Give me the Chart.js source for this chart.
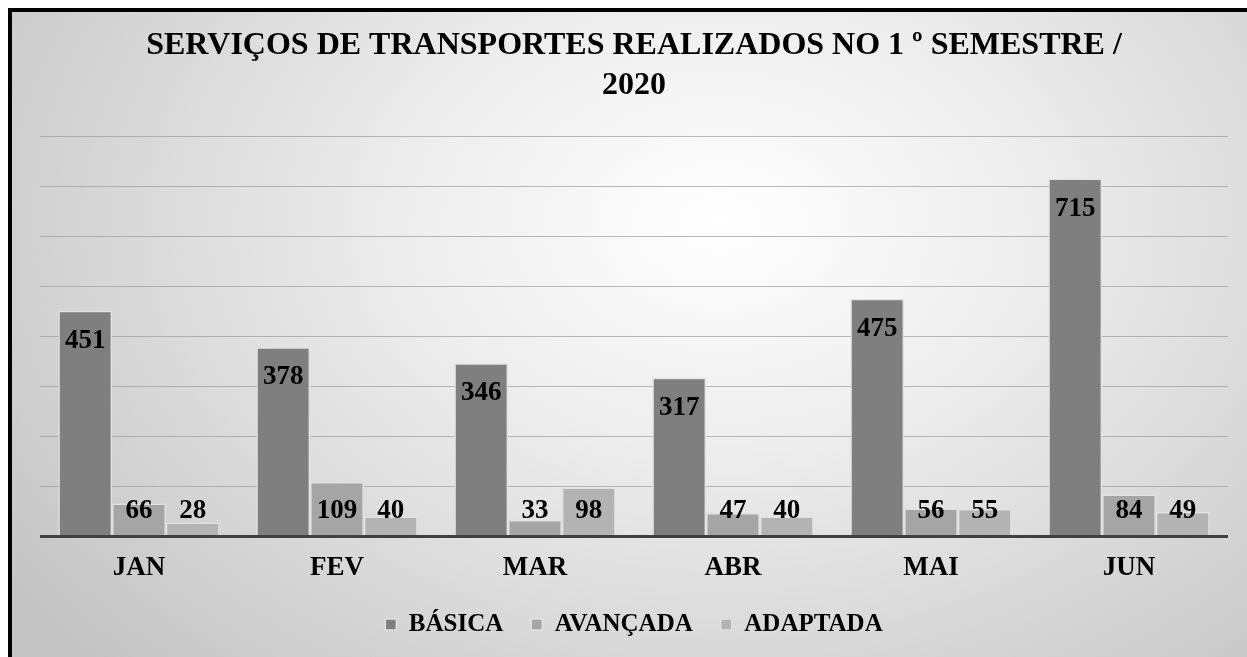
<!DOCTYPE html>
<html>
<head>
<meta charset="utf-8">
<script src="https://cdn.jsdelivr.net/npm/chart.js@4.4.1/dist/chart.umd.min.js"></script>
<style>
    html, body { margin: 0; padding: 0; overflow: hidden; background: #ffffff; }
    #box {
        position: absolute;
        left: 8px;
        top: 8px;
        width: 1242px;
        height: 660px;
        border: 4px solid #000000;
        background: radial-gradient(ellipse 70% 95% at 57% 32%, #ffffff 0%, #eeeeee 35%, #c4c4c4 100%);
    }
</style>
</head>
<body>
<div id="box"><canvas id="grafico"></canvas></div>
<script>
// dados do gráfico
const meses = ["JAN", "FEV", "MAR", "ABR", "MAI", "JUN"];
const basica = [451, 378, 346, 317, 475, 715];
const avancada = [66, 109, 33, 47, 56, 84];
const adaptada = [28, 40, 98, 40, 55, 49];
const titulo = ["SERVIÇOS DE TRANSPORTES REALIZADOS NO 1 º SEMESTRE /", "2020"];

const fonte = "'Liberation Serif', 'Times New Roman', serif";

// rótulos de valor em cima/dentro das barras
const rotulos = {
    id: "rotulos",
    afterDraw(chart) {
        const ctx = chart.ctx;
        ctx.save();
        ctx.font = "bold 27px " + fonte;
        ctx.fillStyle = "#000000";
        ctx.textAlign = "center";
        ctx.textBaseline = "middle";
        chart.data.datasets.forEach((ds, i) => {
            const meta = chart.getDatasetMeta(i);
            meta.data.forEach((bar, j) => {
                const y = Math.min(bar.y + 30, bar.base - 24);
                ctx.fillText(ds.data[j], bar.x, y);
            });
        });
        ctx.restore();
    }
};

new Chart(document.getElementById("grafico"), {
    type: "bar",
    data: {
        labels: meses,
        datasets: [
            { label: "BÁSICA", data: basica, backgroundColor: "#7f7f7f", borderColor: "#e2e2e2", borderWidth: 1.5 },
            { label: "AVANÇADA", data: avancada, backgroundColor: "#a5a5a5", borderColor: "#e2e2e2", borderWidth: 1.5 },
            { label: "ADAPTADA", data: adaptada, backgroundColor: "#b3b3b3", borderColor: "#e2e2e2", borderWidth: 1.5 }
        ]
    },
    options: {
        responsive: true,
        maintainAspectRatio: false,
        animation: false,
        datasets: { bar: { categoryPercentage: 0.815, barPercentage: 1.0 } },
        layout: { padding: { left: 28, right: 26, top: 14, bottom: 25 } },
        plugins: {
            tooltip: { enabled: false },
            title: {
                display: true,
                text: titulo,
                color: "#000000",
                font: { family: fonte, size: 32, weight: "bold", lineHeight: 1.25 },
                padding: { top: 0, bottom: 30 }
            },
            legend: {
                position: "bottom",
                labels: {
                    color: "#000000",
                    font: { family: fonte, size: 25, weight: "bold" },
                    boxWidth: 11,
                    boxHeight: 11,
                    padding: 28
                }
            }
        },
        scales: {
            x: {
                grid: { display: true, drawOnChartArea: false, drawTicks: true, tickLength: 15, color: "rgba(0,0,0,0)" },
                border: { display: false },
                ticks: {
                    color: "#000000",
                    padding: 0,
                    font: { family: fonte, size: 27, weight: "bold" }
                }
            },
            y: {
                min: 0,
                max: 800,
                z: 1,
                border: { display: false },
                ticks: { display: false, stepSize: 100 },
                grid: {
                    drawTicks: false,
                    color: c => c.tick.value === 0 ? "#404040" : "rgba(150,150,150,0.65)",
                    lineWidth: c => c.tick.value === 0 ? 3 : 1
                }
            }
        }
    },
    plugins: [rotulos]
});
</script>
</body>
</html>
